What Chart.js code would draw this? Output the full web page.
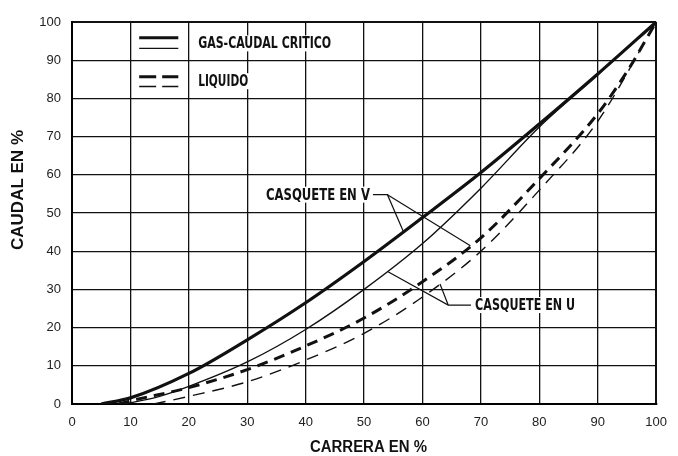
<!DOCTYPE html>
<html>
<head>
<meta charset="utf-8">
<script src="https://cdn.jsdelivr.net/npm/chart.js@4.4.1/dist/chart.umd.min.js"></script>
<style>
  html, body { margin: 0; padding: 0; background: #fff; }
  #wrap { width: 678px; height: 456px; }
</style>
</head>
<body>
<div id="wrap"><canvas id="chart_caudal" width="678" height="456"></canvas></div>
<script>
/* Caracteristica caudal / carrera */

// gas, casquete en V (linea gruesa)
var carreraGasV = [5, 10, 20, 30, 40, 50, 60, 70, 80, 90, 100];
var caudalGasV  = [0, 1.6, 8, 16.8, 26.5, 37.3, 48.8, 60.6, 73.3, 86.4, 100];

// gas, casquete en U (linea fina)
var carreraGasU = [9, 15, 20, 30, 40, 50, 60, 70, 80, 90, 100];
var caudalGasU  = [0, 2, 4.6, 11, 19.5, 30, 42, 56.5, 72.5, 86.2, 100];

// liquido, casquete en V (trazos gruesos)
var carreraLiqV = [8, 10, 20, 30, 40, 50, 60, 70, 80, 90, 95, 100];
var caudalLiqV  = [0, 0.8, 4.3, 9, 15.2, 22.5, 32, 43.5, 59, 76, 87, 100];

// liquido, casquete en U (trazos finos)
var carreraLiqU = [14, 20, 30, 40, 50, 60, 70, 80, 90, 100];
var caudalLiqU  = [0, 2, 5.8, 11.5, 18.5, 28, 40, 56, 74, 100];

var ejeTicks = [0, 10, 20, 30, 40, 50, 60, 70, 80, 90, 100];

function puntos(xs, ys) {
    var out = [];
    for (var i = 0; i < xs.length; i++) out.push({ x: xs[i], y: ys[i] });
    return out;
}

var labelFont = "bold 15px 'DejaVu Sans Condensed', 'DejaVu Sans', sans-serif";

// text squeezed horizontally to a given width, optional white box behind
function fitText(ctx, text, x, y, w, font, box) {
    ctx.save();
    ctx.font = font;
    var m = ctx.measureText(text).width;
    var k = w / m;
    if (box) {
        ctx.fillStyle = '#fff';
        ctx.fillRect(x - 3, y - 8, w + 6, 16);
    }
    ctx.translate(x, y);
    ctx.scale(k, 1);
    ctx.fillStyle = '#111';
    ctx.textAlign = 'left';
    ctx.textBaseline = 'middle';
    ctx.fillText(text, 0, 1);
    ctx.restore();
}

var anotaciones = {
    id: 'anotaciones',
    afterDatasetsDraw: function(chart) {
        var ctx = chart.ctx;
        var sx = chart.scales.x, sy = chart.scales.y;
        var px = function(v) { return sx.getPixelForValue(v); };
        var py = function(v) { return sy.getPixelForValue(v); };

        function linea(pts, w, dash) {
            ctx.save();
            ctx.strokeStyle = '#111';
            ctx.lineWidth = w;
            ctx.setLineDash(dash || []);
            ctx.beginPath();
            ctx.moveTo(px(pts[0][0]), py(pts[0][1]));
            for (var i = 1; i < pts.length; i++) ctx.lineTo(px(pts[i][0]), py(pts[i][1]));
            ctx.stroke();
            ctx.restore();
        }

        // leyenda
        linea([[11.5, 95.9], [18.2, 95.9]], 3);
        linea([[11.5, 93.1], [18.2, 93.1]], 1.4);
        fitText(ctx, 'GAS-CAUDAL CRITICO', px(21.6), py(94.4), 133, labelFont, true);
        linea([[11.5, 85.7], [18.2, 85.7]], 3, [17, 6]);
        linea([[11.5, 83.1], [18.2, 83.1]], 1.4, [17, 6]);
        fitText(ctx, 'LIQUIDO', px(21.6), py(84.5), 50, labelFont, true);

        // casquete en V
        linea([[51.3, 54.8], [54.0, 54.8], [56.8, 44.9]], 1.2);
        linea([[54.0, 54.8], [68.2, 41.4]], 1.2);
        fitText(ctx, 'CASQUETE EN V', px(33.2), py(54.8), 104, labelFont, true);

        // casquete en U
        linea([[68.3, 25.9], [64.4, 25.9], [54.1, 34.6]], 1.2);
        linea([[64.4, 25.9], [63.0, 31.4]], 1.2);
        fitText(ctx, 'CASQUETE EN U', px(69.0), py(25.9), 100, labelFont, true);

        // titulos de ejes
        var titleFont = "bold 16px 'Liberation Sans', Arial, sans-serif";
        ctx.save();
        ctx.translate(18, 250);
        ctx.rotate(-Math.PI / 2);
        fitText(ctx, 'CAUDAL EN %', 0, 0, 120, titleFont, false);
        ctx.restore();
        fitText(ctx, 'CARRERA EN %', 310, 447, 117, titleFont, false);
    }
};

var tickFont = { family: "'Liberation Sans', Arial, sans-serif", size: 13 };

function gridWidth(c) {
    return c.tick && c.tick.value === 100 ? 2 : 1.3;
}

var ctx1 = document.getElementById("chart_caudal").getContext("2d");
var chart1 = new Chart(ctx1, {
    type: 'line',
    data: {
        datasets: [
            {
                label: 'Gas V',
                data: puntos(carreraGasV, caudalGasV),
                borderColor: '#111',
                borderWidth: 3.2
            },
            {
                label: 'Gas U',
                data: puntos(carreraGasU, caudalGasU),
                borderColor: '#111',
                borderWidth: 1.4
            },
            {
                label: 'Liquido V',
                data: puntos(carreraLiqV, caudalLiqV),
                borderColor: '#111',
                borderWidth: 3,
                borderDash: [11, 7]
            },
            {
                label: 'Liquido U',
                data: puntos(carreraLiqU, caudalLiqU),
                borderColor: '#111',
                borderWidth: 1.4,
                borderDash: [12, 8]
            }
        ]
    },
    options: {
        responsive: false,
        animation: false,
        devicePixelRatio: 1,
        layout: { padding: { top: 22, right: 14, left: 0, bottom: 0 } },
        elements: {
            point: { radius: 0 },
            line: { tension: 0.4, cubicInterpolationMode: 'monotone', fill: false }
        },
        plugins: {
            legend: { display: false },
            tooltip: { enabled: false }
        },
        scales: {
            x: {
                type: 'linear',
                min: 0,
                max: 100,
                afterBuildTicks: function(s) { s.ticks = ejeTicks.map(function(v) { return { value: v }; }); },
                ticks: { font: tickFont, color: '#222', padding: 11, maxRotation: 0 },
                grid: { color: '#111', lineWidth: gridWidth, drawTicks: false },
                border: { color: '#000', width: 2 },
                afterFit: function(s) { s.height = 52; }
            },
            y: {
                type: 'linear',
                min: 0,
                max: 100,
                afterBuildTicks: function(s) { s.ticks = ejeTicks.map(function(v) { return { value: v }; }); },
                ticks: { font: tickFont, color: '#222', padding: 11 },
                grid: { color: '#111', lineWidth: gridWidth, drawTicks: false },
                border: { color: '#000', width: 2 },
                afterFit: function(s) { s.width = 72; }
            }
        }
    },
    plugins: [anotaciones]
});
</script>
</body>
</html>
